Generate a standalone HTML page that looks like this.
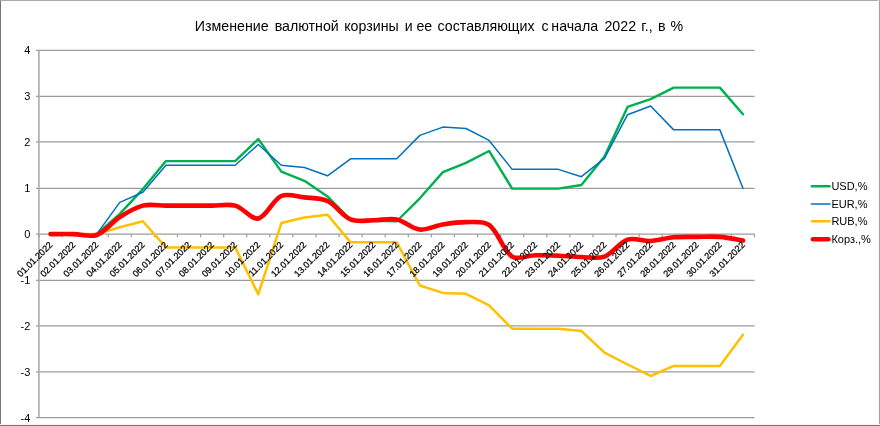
<!DOCTYPE html><html><head><meta charset="utf-8"><style>
html,body{margin:0;padding:0;background:#fff;}
svg{display:block;font-family:"Liberation Sans",Arial,sans-serif;}
</style></head><body>
<svg width="880" height="426" viewBox="0 0 880 426">
<rect x="0" y="0" width="880" height="426" fill="#fff"/>
<rect x="0" y="0" width="1" height="426" fill="#747474"/>
<rect x="0" y="0" width="880" height="1" fill="#aaaaaa"/>
<rect x="878" y="0" width="1" height="426" fill="#f3f3f3"/>
<rect x="879" y="0" width="1" height="426" fill="#a4a4a4"/>
<rect x="0" y="424" width="880" height="1" fill="#f3f3f3"/>
<rect x="0" y="425" width="880" height="1" fill="#787878"/>
<text y="31.3" font-size="14.2" fill="#000"><tspan x="194.84">Изменение</tspan> <tspan x="274.72">валютной</tspan> <tspan x="344.25">корзины</tspan> <tspan x="404.72">и</tspan> <tspan x="416.40">ее</tspan> <tspan x="437.60">составляющих</tspan> <tspan x="541.40">с</tspan> <tspan x="551.32">начала</tspan> <tspan x="604.49">2022</tspan> <tspan x="641.32">г.,</tspan> <tspan x="657.92">в</tspan> <tspan x="670.49">%</tspan></text>
<line x1="36" y1="417.60" x2="754.50" y2="417.60" stroke="#9c9c9c" stroke-width="1.25"/>
<text x="30.3" y="421.50" font-size="11" text-anchor="end" fill="#000">-4</text>
<line x1="36" y1="371.93" x2="754.50" y2="371.93" stroke="#9c9c9c" stroke-width="1.25"/>
<text x="30.3" y="375.83" font-size="11" text-anchor="end" fill="#000">-3</text>
<line x1="36" y1="325.90" x2="754.50" y2="325.90" stroke="#9c9c9c" stroke-width="1.25"/>
<text x="30.3" y="329.80" font-size="11" text-anchor="end" fill="#000">-2</text>
<line x1="36" y1="280.40" x2="754.50" y2="280.40" stroke="#9c9c9c" stroke-width="1.25"/>
<text x="30.3" y="284.30" font-size="11" text-anchor="end" fill="#000">-1</text>
<line x1="36" y1="234.05" x2="754.50" y2="234.05" stroke="#9c9c9c" stroke-width="1.25"/>
<text x="30.3" y="237.95" font-size="11" text-anchor="end" fill="#000">0</text>
<line x1="36" y1="188.40" x2="754.50" y2="188.40" stroke="#9c9c9c" stroke-width="1.25"/>
<text x="30.3" y="192.30" font-size="11" text-anchor="end" fill="#000">1</text>
<line x1="36" y1="141.95" x2="754.50" y2="141.95" stroke="#9c9c9c" stroke-width="1.25"/>
<text x="30.3" y="145.85" font-size="11" text-anchor="end" fill="#000">2</text>
<line x1="36" y1="96.45" x2="754.50" y2="96.45" stroke="#9c9c9c" stroke-width="1.25"/>
<text x="30.3" y="100.35" font-size="11" text-anchor="end" fill="#000">3</text>
<line x1="36" y1="50.30" x2="754.50" y2="50.30" stroke="#9c9c9c" stroke-width="1.25"/>
<text x="30.3" y="54.20" font-size="11" text-anchor="end" fill="#000">4</text>
<line x1="38.9" y1="50.30" x2="38.9" y2="417.60" stroke="#aaaaaa" stroke-width="1.6"/>
<line x1="39.00" y1="234.05" x2="39.00" y2="237.25" stroke="#9c9c9c" stroke-width="1.2"/>
<line x1="62.08" y1="234.05" x2="62.08" y2="237.25" stroke="#9c9c9c" stroke-width="1.2"/>
<line x1="85.16" y1="234.05" x2="85.16" y2="237.25" stroke="#9c9c9c" stroke-width="1.2"/>
<line x1="108.24" y1="234.05" x2="108.24" y2="237.25" stroke="#9c9c9c" stroke-width="1.2"/>
<line x1="131.32" y1="234.05" x2="131.32" y2="237.25" stroke="#9c9c9c" stroke-width="1.2"/>
<line x1="154.40" y1="234.05" x2="154.40" y2="237.25" stroke="#9c9c9c" stroke-width="1.2"/>
<line x1="177.48" y1="234.05" x2="177.48" y2="237.25" stroke="#9c9c9c" stroke-width="1.2"/>
<line x1="200.56" y1="234.05" x2="200.56" y2="237.25" stroke="#9c9c9c" stroke-width="1.2"/>
<line x1="223.65" y1="234.05" x2="223.65" y2="237.25" stroke="#9c9c9c" stroke-width="1.2"/>
<line x1="246.73" y1="234.05" x2="246.73" y2="237.25" stroke="#9c9c9c" stroke-width="1.2"/>
<line x1="269.81" y1="234.05" x2="269.81" y2="237.25" stroke="#9c9c9c" stroke-width="1.2"/>
<line x1="292.89" y1="234.05" x2="292.89" y2="237.25" stroke="#9c9c9c" stroke-width="1.2"/>
<line x1="315.97" y1="234.05" x2="315.97" y2="237.25" stroke="#9c9c9c" stroke-width="1.2"/>
<line x1="339.05" y1="234.05" x2="339.05" y2="237.25" stroke="#9c9c9c" stroke-width="1.2"/>
<line x1="362.13" y1="234.05" x2="362.13" y2="237.25" stroke="#9c9c9c" stroke-width="1.2"/>
<line x1="385.21" y1="234.05" x2="385.21" y2="237.25" stroke="#9c9c9c" stroke-width="1.2"/>
<line x1="408.29" y1="234.05" x2="408.29" y2="237.25" stroke="#9c9c9c" stroke-width="1.2"/>
<line x1="431.37" y1="234.05" x2="431.37" y2="237.25" stroke="#9c9c9c" stroke-width="1.2"/>
<line x1="454.45" y1="234.05" x2="454.45" y2="237.25" stroke="#9c9c9c" stroke-width="1.2"/>
<line x1="477.53" y1="234.05" x2="477.53" y2="237.25" stroke="#9c9c9c" stroke-width="1.2"/>
<line x1="500.61" y1="234.05" x2="500.61" y2="237.25" stroke="#9c9c9c" stroke-width="1.2"/>
<line x1="523.69" y1="234.05" x2="523.69" y2="237.25" stroke="#9c9c9c" stroke-width="1.2"/>
<line x1="546.77" y1="234.05" x2="546.77" y2="237.25" stroke="#9c9c9c" stroke-width="1.2"/>
<line x1="569.85" y1="234.05" x2="569.85" y2="237.25" stroke="#9c9c9c" stroke-width="1.2"/>
<line x1="592.94" y1="234.05" x2="592.94" y2="237.25" stroke="#9c9c9c" stroke-width="1.2"/>
<line x1="616.02" y1="234.05" x2="616.02" y2="237.25" stroke="#9c9c9c" stroke-width="1.2"/>
<line x1="639.10" y1="234.05" x2="639.10" y2="237.25" stroke="#9c9c9c" stroke-width="1.2"/>
<line x1="662.18" y1="234.05" x2="662.18" y2="237.25" stroke="#9c9c9c" stroke-width="1.2"/>
<line x1="685.26" y1="234.05" x2="685.26" y2="237.25" stroke="#9c9c9c" stroke-width="1.2"/>
<line x1="708.34" y1="234.05" x2="708.34" y2="237.25" stroke="#9c9c9c" stroke-width="1.2"/>
<line x1="731.42" y1="234.05" x2="731.42" y2="237.25" stroke="#9c9c9c" stroke-width="1.2"/>
<line x1="754.50" y1="234.05" x2="754.50" y2="237.25" stroke="#9c9c9c" stroke-width="1.2"/>
<g fill="none" stroke-linejoin="round" stroke-linecap="round">
<path d="M50.54,234.10 L73.62,234.10 L96.70,234.10 L119.78,213.90 L142.86,189.10 L165.94,161.09 L189.02,161.09 L212.10,161.09 L235.19,161.09 L258.27,139.05 L281.35,171.65 L304.43,180.83 L327.51,196.45 L350.59,219.86 L373.67,220.78 L396.75,221.24 L419.83,198.28 L442.91,172.11 L465.99,162.92 L489.07,150.98 L512.15,188.64 L535.23,188.64 L558.31,188.64 L581.40,184.97 L604.48,156.50 L627.56,106.90 L650.64,99.10 L673.72,87.62 L696.80,87.62 L719.88,87.62 L742.96,114.25" stroke="#00B050" stroke-width="2.4"/>
<path d="M50.54,234.10 L73.62,234.10 L96.70,234.10 L119.78,202.42 L142.86,192.31 L165.94,165.22 L189.02,165.22 L212.10,165.22 L235.19,165.22 L258.27,144.56 L281.35,165.22 L304.43,167.52 L327.51,175.78 L350.59,158.79 L373.67,158.79 L396.75,158.79 L419.83,135.37 L442.91,127.11 L465.99,128.48 L489.07,140.42 L512.15,169.35 L535.23,169.35 L558.31,169.35 L581.40,176.70 L604.48,158.33 L627.56,114.71 L650.64,105.98 L673.72,129.86 L696.80,129.86 L719.88,129.86 L742.96,188.18" stroke="#0070C0" stroke-width="1.5"/>
<path d="M50.54,234.10 L73.62,234.10 L96.70,234.10 L119.78,227.21 L142.86,221.24 L165.94,247.42 L189.02,247.42 L212.10,247.42 L235.19,247.42 L258.27,294.26 L281.35,223.08 L304.43,217.57 L327.51,214.81 L350.59,242.37 L373.67,242.37 L396.75,242.37 L419.83,285.53 L442.91,292.88 L465.99,293.80 L489.07,305.28 L512.15,328.70 L535.23,328.70 L558.31,328.70 L581.40,330.99 L604.48,352.57 L627.56,364.51 L650.64,375.99 L673.72,365.89 L696.80,365.89 L719.88,365.89 L742.96,334.66" stroke="#FFC000" stroke-width="2.5"/>
<path d="M50.54,234.10 C54.39,234.10 65.93,233.95 73.62,234.10 C81.32,234.25 89.91,237.52 96.70,235.02 C105.29,231.86 111.61,222.31 119.78,217.11 C127.00,212.52 134.74,207.65 142.86,205.63 C150.13,203.82 158.25,205.63 165.94,205.63 C173.64,205.63 181.33,205.63 189.02,205.63 C196.72,205.63 204.41,205.63 212.10,205.63 C219.80,205.63 228.01,203.63 235.19,205.63 C243.40,207.92 251.34,219.94 258.27,218.49 C266.72,216.72 272.39,200.09 281.35,195.99 C287.77,193.05 296.78,196.53 304.43,197.36 C312.16,198.21 320.71,197.79 327.51,201.04 C336.09,205.14 341.96,215.80 350.59,219.41 C357.35,222.23 365.98,220.32 373.67,220.32 C381.36,220.32 389.39,217.94 396.75,219.41 C404.78,221.00 411.89,228.64 419.83,229.51 C427.28,230.32 435.15,225.69 442.91,224.46 C450.53,223.24 458.31,222.08 465.99,222.16 C473.69,222.24 483.34,220.64 489.07,224.92 C498.73,232.12 502.47,250.25 512.15,256.60 C517.86,260.35 527.53,255.38 535.23,255.22 C542.92,255.07 550.63,255.38 558.31,255.68 C566.01,255.99 573.70,256.91 581.40,257.06 C589.08,257.21 597.61,259.20 604.48,256.60 C613.00,253.38 619.04,242.49 627.56,239.61 C634.43,237.29 642.98,241.37 650.64,240.99 C658.37,240.60 665.98,238.01 673.72,237.31 C681.36,236.63 689.10,236.93 696.80,236.86 C704.49,236.78 712.23,236.25 719.88,236.86 C727.62,237.47 739.11,239.92 742.96,240.53" stroke="#FF0000" stroke-width="4.6"/>
</g>
<text transform="translate(53.04,245.40) rotate(-45)" font-size="9.1" text-anchor="end" fill="#000" stroke="#000" stroke-width="0.25">01.01.2022</text>
<text transform="translate(76.12,245.40) rotate(-45)" font-size="9.1" text-anchor="end" fill="#000" stroke="#000" stroke-width="0.25">02.01.2022</text>
<text transform="translate(99.20,245.40) rotate(-45)" font-size="9.1" text-anchor="end" fill="#000" stroke="#000" stroke-width="0.25">03.01.2022</text>
<text transform="translate(122.28,245.40) rotate(-45)" font-size="9.1" text-anchor="end" fill="#000" stroke="#000" stroke-width="0.25">04.01.2022</text>
<text transform="translate(145.36,245.40) rotate(-45)" font-size="9.1" text-anchor="end" fill="#000" stroke="#000" stroke-width="0.25">05.01.2022</text>
<text transform="translate(168.44,245.40) rotate(-45)" font-size="9.1" text-anchor="end" fill="#000" stroke="#000" stroke-width="0.25">06.01.2022</text>
<text transform="translate(191.52,245.40) rotate(-45)" font-size="9.1" text-anchor="end" fill="#000" stroke="#000" stroke-width="0.25">07.01.2022</text>
<text transform="translate(214.60,245.40) rotate(-45)" font-size="9.1" text-anchor="end" fill="#000" stroke="#000" stroke-width="0.25">08.01.2022</text>
<text transform="translate(237.69,245.40) rotate(-45)" font-size="9.1" text-anchor="end" fill="#000" stroke="#000" stroke-width="0.25">09.01.2022</text>
<text transform="translate(260.77,245.40) rotate(-45)" font-size="9.1" text-anchor="end" fill="#000" stroke="#000" stroke-width="0.25">10.01.2022</text>
<text transform="translate(283.85,245.40) rotate(-45)" font-size="9.1" text-anchor="end" fill="#000" stroke="#000" stroke-width="0.25">11.01.2022</text>
<text transform="translate(306.93,245.40) rotate(-45)" font-size="9.1" text-anchor="end" fill="#000" stroke="#000" stroke-width="0.25">12.01.2022</text>
<text transform="translate(330.01,245.40) rotate(-45)" font-size="9.1" text-anchor="end" fill="#000" stroke="#000" stroke-width="0.25">13.01.2022</text>
<text transform="translate(353.09,245.40) rotate(-45)" font-size="9.1" text-anchor="end" fill="#000" stroke="#000" stroke-width="0.25">14.01.2022</text>
<text transform="translate(376.17,245.40) rotate(-45)" font-size="9.1" text-anchor="end" fill="#000" stroke="#000" stroke-width="0.25">15.01.2022</text>
<text transform="translate(399.25,245.40) rotate(-45)" font-size="9.1" text-anchor="end" fill="#000" stroke="#000" stroke-width="0.25">16.01.2022</text>
<text transform="translate(422.33,245.40) rotate(-45)" font-size="9.1" text-anchor="end" fill="#000" stroke="#000" stroke-width="0.25">17.01.2022</text>
<text transform="translate(445.41,245.40) rotate(-45)" font-size="9.1" text-anchor="end" fill="#000" stroke="#000" stroke-width="0.25">18.01.2022</text>
<text transform="translate(468.49,245.40) rotate(-45)" font-size="9.1" text-anchor="end" fill="#000" stroke="#000" stroke-width="0.25">19.01.2022</text>
<text transform="translate(491.57,245.40) rotate(-45)" font-size="9.1" text-anchor="end" fill="#000" stroke="#000" stroke-width="0.25">20.01.2022</text>
<text transform="translate(514.65,245.40) rotate(-45)" font-size="9.1" text-anchor="end" fill="#000" stroke="#000" stroke-width="0.25">21.01.2022</text>
<text transform="translate(537.73,245.40) rotate(-45)" font-size="9.1" text-anchor="end" fill="#000" stroke="#000" stroke-width="0.25">22.01.2022</text>
<text transform="translate(560.81,245.40) rotate(-45)" font-size="9.1" text-anchor="end" fill="#000" stroke="#000" stroke-width="0.25">23.01.2022</text>
<text transform="translate(583.90,245.40) rotate(-45)" font-size="9.1" text-anchor="end" fill="#000" stroke="#000" stroke-width="0.25">24.01.2022</text>
<text transform="translate(606.98,245.40) rotate(-45)" font-size="9.1" text-anchor="end" fill="#000" stroke="#000" stroke-width="0.25">25.01.2022</text>
<text transform="translate(630.06,245.40) rotate(-45)" font-size="9.1" text-anchor="end" fill="#000" stroke="#000" stroke-width="0.25">26.01.2022</text>
<text transform="translate(653.14,245.40) rotate(-45)" font-size="9.1" text-anchor="end" fill="#000" stroke="#000" stroke-width="0.25">27.01.2022</text>
<text transform="translate(676.22,245.40) rotate(-45)" font-size="9.1" text-anchor="end" fill="#000" stroke="#000" stroke-width="0.25">28.01.2022</text>
<text transform="translate(699.30,245.40) rotate(-45)" font-size="9.1" text-anchor="end" fill="#000" stroke="#000" stroke-width="0.25">29.01.2022</text>
<text transform="translate(722.38,245.40) rotate(-45)" font-size="9.1" text-anchor="end" fill="#000" stroke="#000" stroke-width="0.25">30.01.2022</text>
<text transform="translate(745.46,245.40) rotate(-45)" font-size="9.1" text-anchor="end" fill="#000" stroke="#000" stroke-width="0.25">31.01.2022</text>
<line x1="812.00" y1="186.30" x2="829.40" y2="186.30" stroke="#00B050" stroke-width="2.6" stroke-linecap="round"/>
<text x="831.4" y="190.40" font-size="11" fill="#000">USD,%</text>
<line x1="811.45" y1="204.00" x2="829.95" y2="204.00" stroke="#0070C0" stroke-width="1.5" stroke-linecap="round"/>
<text x="831.4" y="208.10" font-size="11" fill="#000">EUR,%</text>
<line x1="812.00" y1="221.30" x2="829.40" y2="221.30" stroke="#FFC000" stroke-width="2.6" stroke-linecap="round"/>
<text x="831.4" y="225.40" font-size="11" fill="#000">RUB,%</text>
<line x1="813.00" y1="239.20" x2="828.40" y2="239.20" stroke="#FF0000" stroke-width="4.6" stroke-linecap="round"/>
<text x="831.4" y="243.30" font-size="11" fill="#000">Корз.,%</text>
</svg></body></html>
